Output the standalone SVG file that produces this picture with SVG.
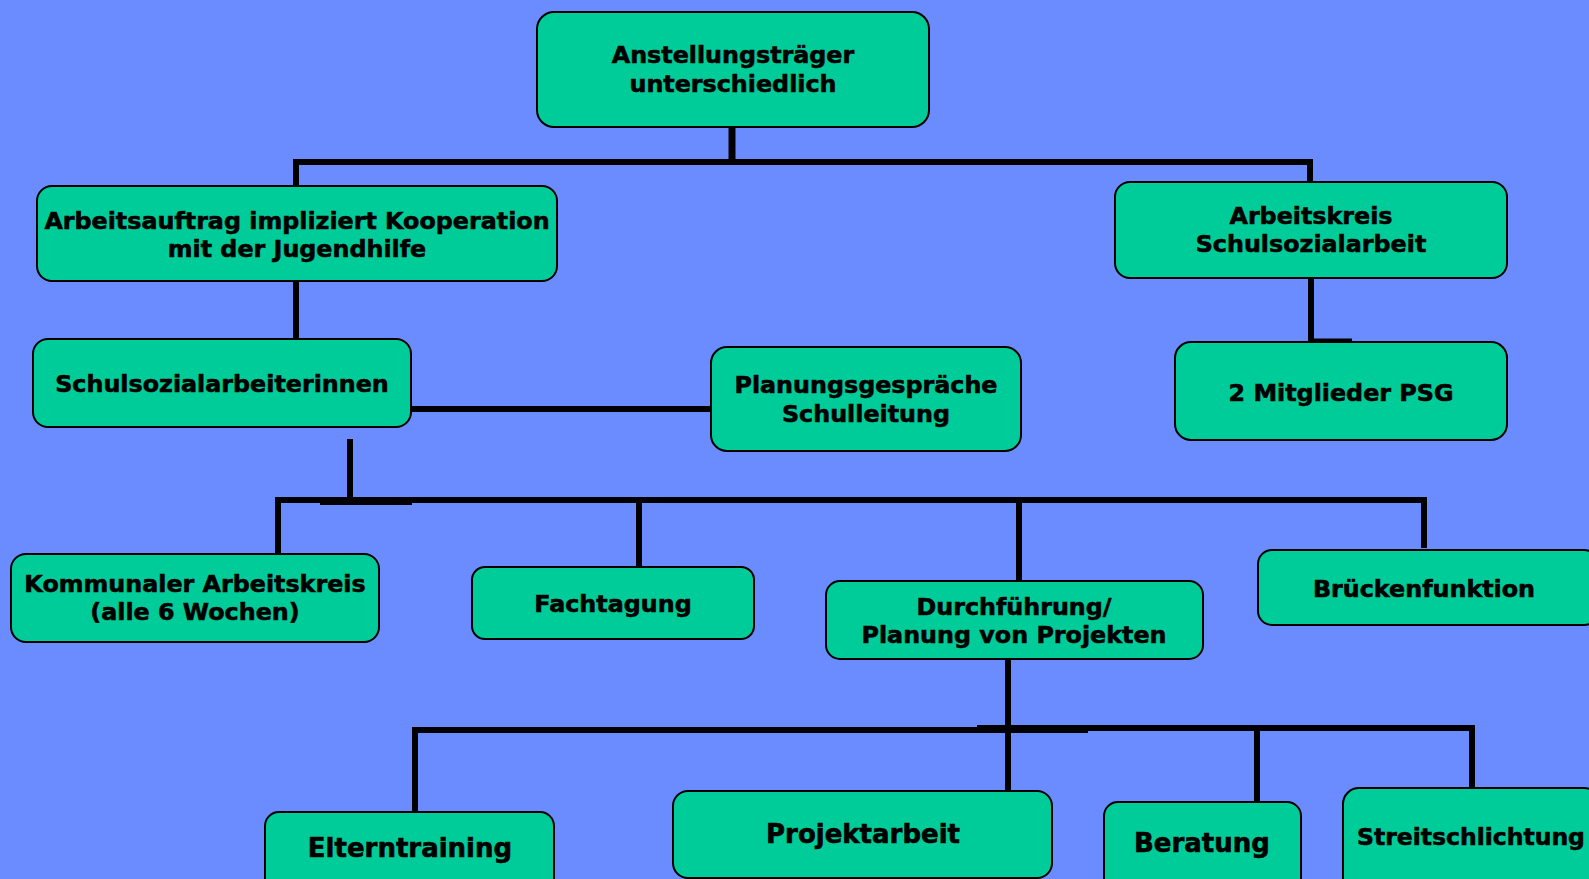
<svg xmlns="http://www.w3.org/2000/svg" width="1589" height="879" viewBox="0 0 1589 879">
<style>
.bg{fill:#6B8CFF}
.box{fill:#00CC99;stroke:#000;stroke-width:2}
.t{font-family:"DejaVu Sans","Verdana",sans-serif;font-weight:bold;font-size:23.8px;fill:#000;stroke:#000;stroke-width:0.6;text-anchor:middle}
.big{font-size:26px}
.c{stroke:#000;stroke-width:6;fill:none;stroke-linecap:butt}
</style>
<rect class="bg" x="0" y="0" width="1589" height="879"/>
<g id="connectors">
<line class="c" x1="732" y1="127" x2="732" y2="162" style="stroke-width:7"/>
<line class="c" x1="293" y1="162" x2="1313" y2="162"/>
<line class="c" x1="296" y1="162" x2="296" y2="186"/>
<line class="c" x1="1310" y1="162" x2="1310" y2="182"/>
<line class="c" x1="296" y1="281" x2="296" y2="339"/>
<line class="c" x1="1311" y1="278" x2="1311" y2="342"/>
<line class="c" x1="1311" y1="340" x2="1352" y2="340" style="stroke-width:3"/>
<line class="c" x1="411" y1="409" x2="711" y2="409"/>
<line class="c" x1="350" y1="439" x2="350" y2="501"/>
<line class="c" x1="275" y1="500" x2="1427" y2="500"/>
<line class="c" x1="320" y1="502" x2="412" y2="502"/>
<line class="c" x1="278" y1="498" x2="278" y2="554"/>
<line class="c" x1="639" y1="500" x2="639" y2="567"/>
<line class="c" x1="1019" y1="500" x2="1019" y2="581"/>
<line class="c" x1="1424" y1="497" x2="1424" y2="548"/>
<line class="c" x1="1008" y1="659" x2="1008" y2="790"/>
<line class="c" x1="412" y1="730" x2="1088" y2="730"/>
<line class="c" x1="977" y1="728" x2="1475" y2="728"/>
<line class="c" x1="415" y1="727" x2="415" y2="812"/>
<line class="c" x1="1257" y1="728" x2="1257" y2="802"/>
<line class="c" x1="1472" y1="725" x2="1472" y2="788"/>
</g>
<g id="n-root">
<rect class="box" x="537" y="12" width="392" height="115" rx="17"/>
<text class="t" x="733" y="63">Anstellungsträger</text>
<text class="t" x="733" y="92">unterschiedlich</text>
</g>
<g id="n-arbeitsauftrag">
<rect class="box" x="37" y="186" width="520" height="95" rx="15"/>
<text class="t" x="297" y="229">Arbeitsauftrag impliziert Kooperation</text>
<text class="t" x="297" y="257">mit der Jugendhilfe</text>
</g>
<g id="n-arbeitskreis">
<rect class="box" x="1115" y="182" width="392" height="96" rx="15"/>
<text class="t" x="1311" y="224">Arbeitskreis</text>
<text class="t" x="1311" y="252">Schulsozialarbeit</text>
</g>
<g id="n-psg">
<rect class="box" x="1175" y="342" width="332" height="98" rx="16"/>
<text class="t" x="1341" y="401">2 Mitglieder PSG</text>
</g>
<g id="n-schulsozial">
<rect class="box" x="33" y="339" width="378" height="88" rx="15"/>
<text class="t" x="222" y="392">Schulsozialarbeiterinnen</text>
</g>
<g id="n-planung">
<rect class="box" x="711" y="347" width="310" height="104" rx="16"/>
<text class="t" x="866" y="393">Planungsgespräche</text>
<text class="t" x="866" y="422">Schulleitung</text>
</g>
<g id="n-kommunal">
<rect class="box" x="11" y="554" width="368" height="88" rx="15"/>
<text class="t" x="195" y="592">Kommunaler Arbeitskreis</text>
<text class="t" x="195" y="620">(alle 6 Wochen)</text>
</g>
<g id="n-fachtagung">
<rect class="box" x="472" y="567" width="282" height="72" rx="13"/>
<text class="t" x="613" y="612">Fachtagung</text>
</g>
<g id="n-durchfuehrung">
<rect class="box" x="826" y="581" width="377" height="78" rx="14"/>
<text class="t" x="1014" y="615">Durchführung/</text>
<text class="t" x="1014" y="643">Planung von Projekten</text>
</g>
<g id="n-bruecke">
<rect class="box" x="1258" y="550" width="340" height="75" rx="14"/>
<text class="t" x="1424" y="597">Brückenfunktion</text>
</g>
<g id="n-eltern">
<rect class="box" x="265" y="812" width="289" height="90" rx="14"/>
<text class="t big" x="410" y="857">Elterntraining</text>
</g>
<g id="n-projekt">
<rect class="box" x="673" y="791" width="379" height="87" rx="15"/>
<text class="t big" x="863" y="843">Projektarbeit</text>
</g>
<g id="n-beratung">
<rect class="box" x="1104" y="802" width="197" height="100" rx="14"/>
<text class="t big" x="1202" y="852">Beratung</text>
</g>
<g id="n-streit">
<rect class="box" x="1343" y="788" width="257" height="110" rx="16"/>
<text class="t" x="1471" y="845" style="font-size:23.5px">Streitschlichtung</text>
</g>
</svg>
